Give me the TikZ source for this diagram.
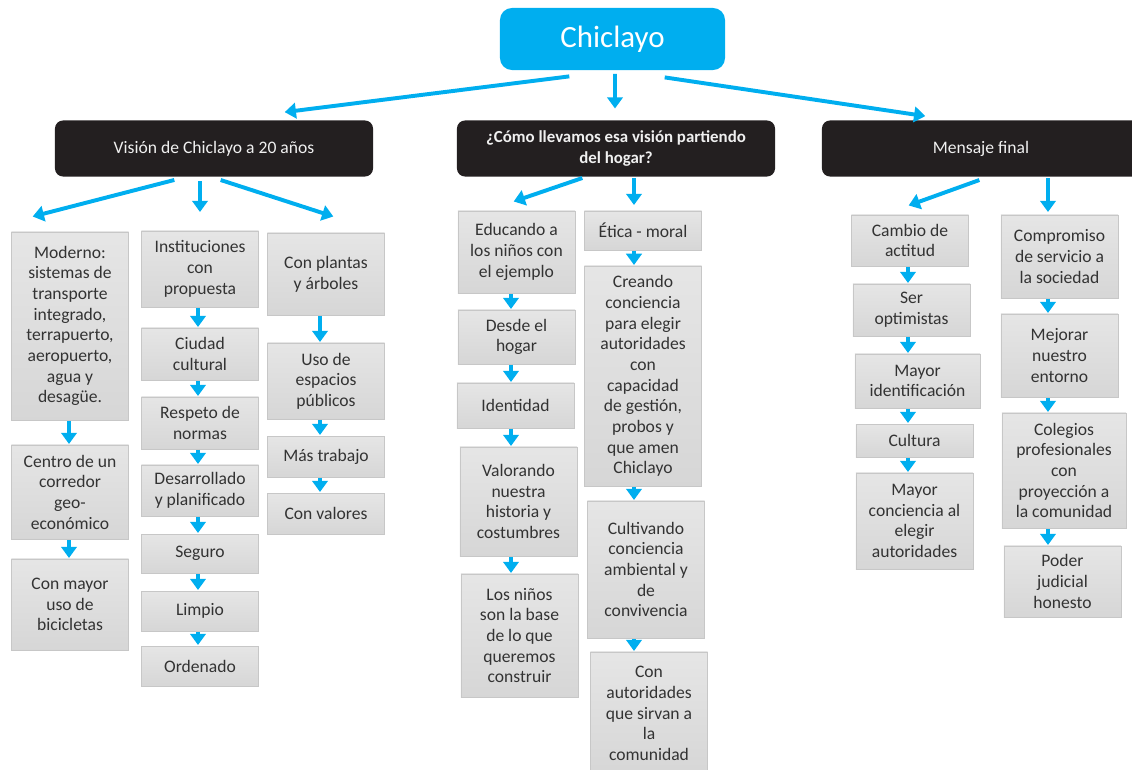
\documentclass[tikz,border=0pt]{standalone}
\usepackage{fontspec}
\setmainfont{Carlito}
\usepackage{xcolor}
\usepackage{tikz}
\usetikzlibrary{arrows.meta}
\usetikzlibrary{calc}
\definecolor{chicyan}{HTML}{00AEEF}
\definecolor{chidark}{HTML}{231F20}
\tikzset{
    rootnode/.style = {rectangle, rounded corners=0.3cm, fill=chicyan, text=white, align=center, font=\fontsize{22}{26}\selectfont, minimum width=5.625cm, minimum height=1.55cm},
    headnode/.style = {rectangle, rounded corners=0.2cm, fill=chidark, text=black!6, align=center, font=\fontsize{12.5}{15}\selectfont, minimum width=7.95cm, minimum height=1.4cm},
    mybox/.style = {rectangle, draw=black!22, top color=black!10, bottom color=black!16, text=black!80, align=center, inner sep=1pt, font=\fontsize{12.5}{14.7}\selectfont, minimum width=2.93cm},
    arr/.style = {-{Triangle[length=8pt,width=11pt]}, line width=2.8pt, chicyan, shorten <=0.5pt, shorten >=0.5pt},
}
\begin{document}
\begin{tikzpicture}[
	x=0.025cm,
	y=-0.025cm
]
\useasboundingbox (0,0) rectangle (1132,770);
% top and level one
\node[rootnode] at (612.5,39) (root) {Chiclayo};
\node[headnode] at (214,148.5) (vis) {Visión de Chiclayo a 20 años};
\node[headnode,font=\fontsize{12}{15}\selectfont\bfseries] at (616,148.5) (como) {¿Cómo llevamos esa visión partiendo\\del hogar?};
\node[headnode] at (981,148.5) (msj) {Mensaje final};
%
\coordinate (cA) at (69,0);
\coordinate (cB) at (198,0);
\coordinate (cC) at (320,0);
\coordinate (cD) at (511,0);
\coordinate (cE) at (634,0);
\coordinate (cF) at (908,0);
\coordinate (cG) at (1048,0);
% vision
\node[mybox,minimum height=4.7cm] at (70,326) (m1) {Moderno:\\sistemas de\\transporte\\integrado,\\terrapuerto,\\aeropuerto,\\agua y\\desagüe.};
\node[mybox,minimum height=2.35cm] at (70,492) (m2) {Centro de un\\corredor\\geo-\\económico};
\node[mybox,minimum height=2.275cm] at (70,604.5) (m3) {Con mayor\\uso de\\bicicletas};
%
\node[mybox,minimum height=1.9cm] at (200,269) (i1) {Instituciones\\con\\propuesta};
\node[mybox,minimum height=1.3cm] at (200,354) (i2) {Ciudad\\cultural};
\node[mybox,minimum height=1.3cm] at (200,423) (i3) {Respeto de\\normas};
\node[mybox,minimum height=1.275cm] at (200,490.5) (i4) {Desarrollado\\y planificado};
\node[mybox,minimum height=0.975cm] at (200,553.5) (i5) {Seguro};
\node[mybox,minimum height=1.0cm] at (200,611) (i6) {Limpio};
\node[mybox,minimum height=1.0cm] at (200,666) (i7) {Ordenado};
%
\node[mybox,minimum height=2.05cm] at (326,274) (p1) {Con plantas\\y árboles};
\node[mybox,minimum height=1.9cm] at (326,381) (p2) {Uso de\\espacios\\públicos};
\node[mybox,minimum height=1.025cm] at (326,456.5) (p3) {Más trabajo};
\node[mybox,minimum height=1.025cm] at (326,513.5) (p4) {Con valores};
% hogar
\node[mybox,minimum height=2.05cm] at (516.5,252) (e1) {Educando a\\los niños con\\el ejemplo};
\node[mybox,minimum height=1.35cm] at (516.5,337) (e2) {Desde el\\hogar};
\node[mybox,minimum height=1.125cm] at (515.5,405.5) (e3) {Identidad};
\node[mybox,minimum height=2.725cm] at (518.5,501.5) (e4) {Valorando\\nuestra\\historia y\\costumbres};
\node[mybox,minimum height=3.075cm] at (519.5,635.5) (e5) {Los niños\\son la base\\de lo que\\queremos\\construir};
%
\node[mybox,minimum height=0.975cm] at (643,230.5) (f1) {Ética - moral};
\node[mybox,minimum height=5.5cm] at (643,376) (f2) {Creando\\conciencia\\para elegir\\autoridades\\con\\capacidad\\de gestión,\\probos y\\que amen\\Chiclayo};
\node[mybox,minimum height=3.425cm] at (646,569.5) (f3) {Cultivando\\conciencia\\ambiental y\\de\\convivencia};
\node[mybox,minimum height=3.075cm] at (649,713.5) (f4) {Con\\autoridades\\que sirvan a\\la\\comunidad};
% mensaje
\node[mybox,minimum height=1.275cm] at (910,240.5) (g1) {Cambio de\\actitud};
\node[mybox,minimum height=1.3cm] at (911.5,310) (g2) {Ser\\optimistas};
\node[mybox,minimum height=1.35cm,minimum width=3.125cm] at (917.5,381) (g3) {Mayor\\identificación};
\node[mybox,minimum height=0.825cm] at (914.5,440.5) (g4) {Cultura};
\node[mybox,minimum height=2.4cm] at (914.5,521) (g5) {Mayor\\conciencia al\\elegir\\autoridades};
%
\node[mybox,minimum height=2.075cm] at (1059.5,256.5) (h1) {Compromiso\\de servicio a\\la sociedad};
\node[mybox,minimum height=2.075cm] at (1059.5,355.5) (h2) {Mejorar\\nuestro\\entorno};
\node[mybox,minimum height=2.875cm,minimum width=3.1cm] at (1064,470.5) (h3) {Colegios\\profesionales\\con\\proyección a\\la comunidad};
\node[mybox,minimum height=1.775cm] at (1062.5,581.5) (h4) {Poder\\judicial\\honesto};
%
\draw[arr] ($(root.south)+(-42.5,6)$) -- ($(vis.north)+(70,-8)$);
\draw[arr] ($(root.south)+(2.5,3)$) -- ($(como.north)+(-1,-11)$);
\draw[arr] ($(root.south)+(51.5,7)$) -- ($(msj.north)+(-55,-4)$);
%
\draw[arr] ($(vis.south)+(-39,3)$) -- ($(m1.north)+(-38,-15)$);
\draw[arr] ($(vis.south)+(-14,4)$) -- ($(i1.north)+(0,-18)$);
\draw[arr] ($(vis.south)+(6,3)$) -- ($(p1.north)+(8,-16)$);
\draw[arr] ($(como.south)+(-33,1)$) -- ($(e1.north)+(-3.5,-9)$);
\draw[arr] ($(como.south)+(18,1)$) -- ($(f1.north)+(-9,-5)$);
\draw[arr] ($(msj.south)+(-1,3)$) -- ($(g1.north)+(-2,-9)$);
\draw[arr] ($(msj.south)+(67,1)$) -- ($(h1.north)+(-11.5,-2)$);
%
\draw[arr] (m1.south -| cA) -- (m2.north -| cA);
\draw[arr] (m2.south -| cA) -- (m3.north -| cA);
%
\draw[arr] (i1.south -| cB) -- (i2.north -| cB);
\draw[arr] (i2.south -| cB) -- (i3.north -| cB);
\draw[arr] (i3.south -| cB) -- (i4.north -| cB);
\draw[arr] (i4.south -| cB) -- (i5.north -| cB);
\draw[arr] (i5.south -| cB) -- (i6.north -| cB);
\draw[arr] (i6.south -| cB) -- (i7.north -| cB);
%
\draw[arr] (p1.south -| cC) -- (p2.north -| cC);
\draw[arr] (p2.south -| cC) -- (p3.north -| cC);
\draw[arr] (p3.south -| cC) -- (p4.north -| cC);
%
\draw[arr] (e1.south -| cD) -- (e2.north -| cD);
\draw[arr] (e2.south -| cD) -- (e3.north -| cD);
\draw[arr] (e3.south -| cD) -- (e4.north -| cD);
\draw[arr] (e4.south -| cD) -- (e5.north -| cD);
%
\draw[arr] (f1.south -| cE) -- (f2.north -| cE);
\draw[arr] (f2.south -| cE) -- (f3.north -| cE);
\draw[arr] (f3.south -| cE) -- (f4.north -| cE);
%
\draw[arr] (g1.south -| cF) -- (g2.north -| cF);
\draw[arr] (g2.south -| cF) -- (g3.north -| cF);
\draw[arr] (g3.south -| cF) -- (g4.north -| cF);
\draw[arr] (g4.south -| cF) -- (g5.north -| cF);
%
\draw[arr] (h1.south -| cG) -- (h2.north -| cG);
\draw[arr] (h2.south -| cG) -- (h3.north -| cG);
\draw[arr] (h3.south -| cG) -- (h4.north -| cG);
\end{tikzpicture}
\end{document}
